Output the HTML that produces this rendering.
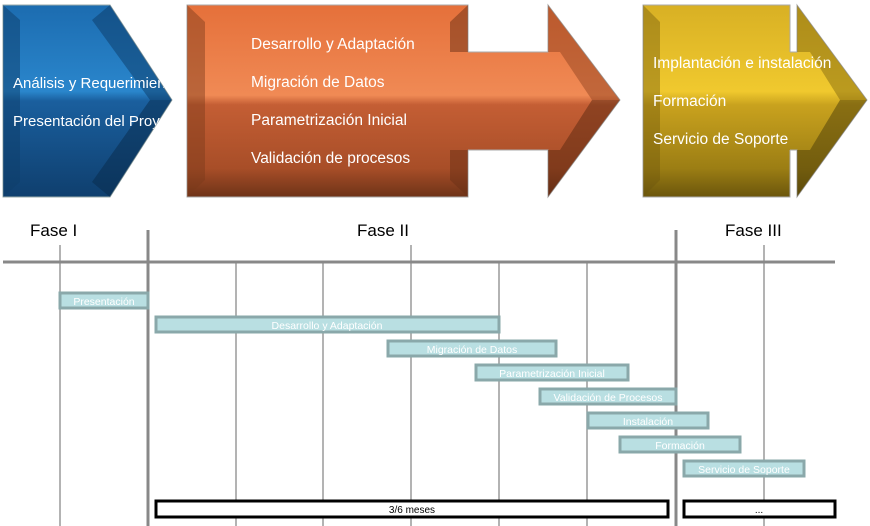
<!DOCTYPE html>
<html><head><meta charset="utf-8"><style>
body{margin:0;background:#fff;width:870px;height:526px;overflow:hidden}
svg{display:block;font-family:"Liberation Sans",sans-serif}
</style></head><body>
<svg width="870" height="526" viewBox="0 0 870 526" xmlns="http://www.w3.org/2000/svg">
<defs>
<linearGradient id="gb" x1="0" y1="0" x2="0" y2="1">
<stop offset="0" stop-color="#1c6cb0"/><stop offset="0.45" stop-color="#2a86cc"/><stop offset="0.5" stop-color="#1a5f9e"/><stop offset="1" stop-color="#0f3f6e"/></linearGradient>
<linearGradient id="go" x1="0" y1="0" x2="0" y2="1">
<stop offset="0" stop-color="#e5703a"/><stop offset="0.47" stop-color="#f08a55"/><stop offset="0.52" stop-color="#c45e34"/><stop offset="0.85" stop-color="#a84e28"/><stop offset="1" stop-color="#6e3318"/></linearGradient>
<linearGradient id="gy" x1="0" y1="0" x2="0" y2="1">
<stop offset="0" stop-color="#d8b024"/><stop offset="0.45" stop-color="#f0c92e"/><stop offset="0.52" stop-color="#c9a21e"/><stop offset="0.85" stop-color="#9c7e14"/><stop offset="1" stop-color="#6b560c"/></linearGradient>
<clipPath id="cb"><polygon points="3,5 110,5 172,100 110,197 3,197"/></clipPath>
</defs>
<!-- blue -->
<polygon points="3,5 110,5 172,100 110,197 3,197" fill="url(#gb)" stroke="#9aa" stroke-width="1"/>
<polygon points="3,5 20,20 20,182 3,197" fill="#0d3d6a" opacity="0.5"/>
<polygon points="92,20 110,5 172,100 150,100" fill="#0c3a66" opacity="0.5"/>
<polygon points="150,100 172,100 110,197 92,182" fill="#082a4a" opacity="0.5"/>
<g clip-path="url(#cb)" fill="#fff" font-size="15">
<text x="13" y="88">Análisis y Requerimientos</text>
<text x="13" y="126">Presentación del Proyecto</text>
</g>
<!-- orange -->
<rect x="187" y="5" width="281" height="192" fill="url(#go)" stroke="#aaa"/>
<polygon points="187,5 205,22 205,180 187,197" fill="#7a3a1a" opacity="0.45"/>
<polygon points="468,5 450,22 450,180 468,197" fill="#6a3015" opacity="0.5"/>
<polygon points="548,5 620,100 548,197 548,150 430,150 430,52 548,52" fill="url(#go)"/>
<polyline points="468,52 548,52 548,5 620,100 548,197 548,150 468,150" fill="none" stroke="#aaa"/>
<polygon points="548,5 620,100 592,100 560,52 548,52" fill="#8a3f1c" opacity="0.45"/>
<polygon points="592,100 620,100 548,197 548,150 560,150" fill="#5a2810" opacity="0.5"/>
<g fill="#fff" font-size="15.5">
<text x="251" y="49">Desarrollo y Adaptación</text>
<text x="251" y="87">Migración de Datos</text>
<text x="251" y="125">Parametrización Inicial</text>
<text x="251" y="163">Validación de procesos</text>
</g>
<!-- gold -->
<rect x="643" y="5" width="147" height="192" fill="url(#gy)" stroke="#aaa"/>
<polygon points="643,5 660,22 660,180 643,197" fill="#6b560c" opacity="0.4"/>
<polygon points="797,5 867,100 797,197 797,150 740,150 740,52 797,52" fill="url(#gy)"/>
<polyline points="790,52 797,52 797,5 867,100 797,197 797,150 790,150" fill="none" stroke="#aaa"/>
<polygon points="797,5 867,100 840,100 810,52 797,52" fill="#7a620e" opacity="0.45"/>
<polygon points="840,100 867,100 797,197 797,150 810,150" fill="#4a3c08" opacity="0.5"/>
<g fill="#fff" font-size="15.5">
<text x="653" y="68">Implantación  e instalación</text>
<text x="653" y="106">Formación</text>
<text x="653" y="144">Servicio de Soporte</text>
</g>
<!-- phases -->
<g font-size="17" fill="#000">
<text x="30" y="236">Fase I</text>
<text x="357" y="236">Fase II</text>
<text x="725" y="236">Fase III</text>
</g>
<g stroke="#9a9a9a" stroke-width="1.5">
<line x1="60" y1="245" x2="60" y2="526"/>
<line x1="411" y1="245" x2="411" y2="526"/>
<line x1="764" y1="245" x2="764" y2="526"/>
<line x1="236" y1="262" x2="236" y2="526"/>
<line x1="323" y1="262" x2="323" y2="526"/>
<line x1="499" y1="262" x2="499" y2="526"/>
<line x1="587" y1="262" x2="587" y2="526"/>
</g>
<g stroke="#888" stroke-width="3">
<line x1="148" y1="230" x2="148" y2="526"/>
<line x1="676" y1="230" x2="676" y2="526"/>
<line x1="3" y1="262" x2="835" y2="262"/>
</g>
<!-- bars -->
<g fill="#b9dfe2" stroke="#8aa8aa" stroke-width="3">
<rect x="60" y="293" width="88" height="15"/>
<rect x="156" y="317" width="343" height="15"/>
<rect x="388" y="341" width="168" height="15"/>
<rect x="476" y="365" width="152" height="15"/>
<rect x="540" y="389" width="136" height="15"/>
<rect x="588" y="413" width="120" height="15"/>
<rect x="620" y="437" width="120" height="15"/>
<rect x="684" y="461" width="120" height="15"/>
</g>
<g fill="#fff" font-size="10.5" text-anchor="middle">
<text x="104" y="305">Presentación</text>
<text x="327" y="329">Desarrollo y Adaptación</text>
<text x="472" y="353">Migración de Datos</text>
<text x="552" y="377">Parametrización Inicial</text>
<text x="608" y="401">Validación de Procesos</text>
<text x="648" y="425">Instalación</text>
<text x="680" y="449">Formación</text>
<text x="744" y="473">Servicio de Soporte</text>
</g>
<g fill="#fff" stroke="#000" stroke-width="3">
<rect x="156" y="501" width="512" height="16"/>
<rect x="684" y="501" width="151" height="16"/>
</g>
<g font-size="10" fill="#000" text-anchor="middle">
<text x="412" y="513">3/6 meses</text>
<text x="759" y="513">...</text>
</g>
</svg>
</body></html>
